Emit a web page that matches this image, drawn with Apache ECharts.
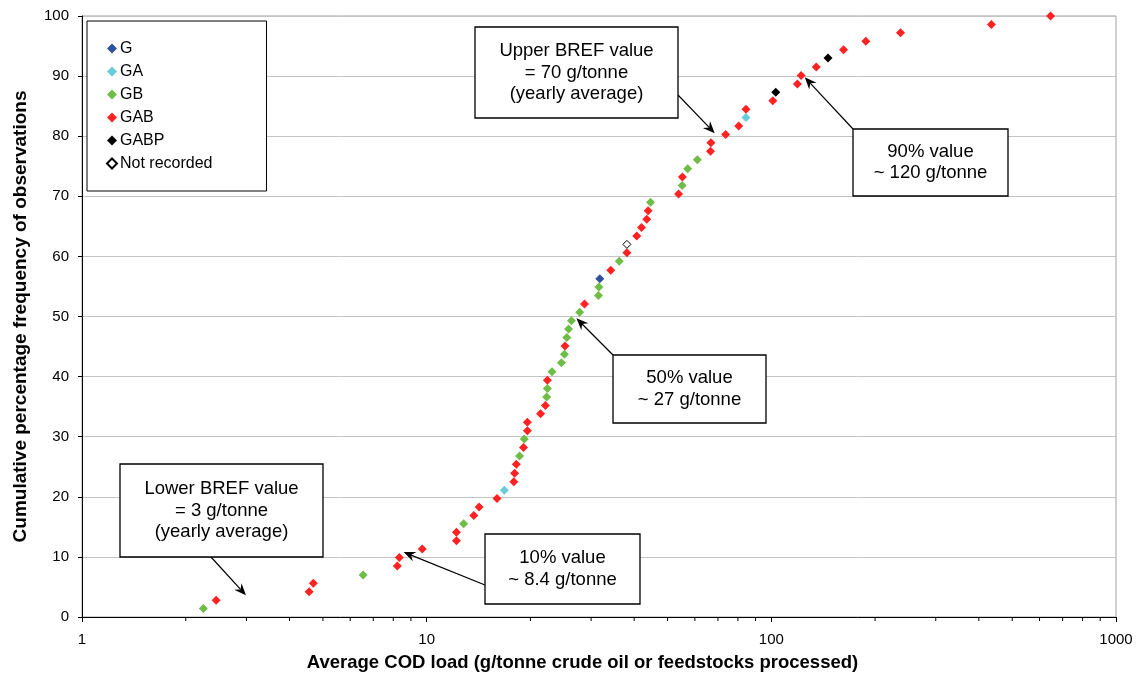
<!DOCTYPE html>
<html>
<head>
<meta charset="utf-8">
<script src="https://cdn.jsdelivr.net/npm/echarts@6/dist/echarts.min.js"></script>
<style>
  html, body { margin: 0; padding: 0; background: #fff; }
  #main { width: 1143px; height: 680px; }
</style>
</head>
<body>
<div id="main"></div>
<script>
// 观测值：平均COD负荷（g/t），按从小到大排列
var codLoad = [2.25, 2.45, 4.56, 4.69, 6.54, 8.22, 8.33, 9.71, 12.2, 12.2,
  12.8, 13.7, 14.2, 16.0, 16.8, 17.9, 18.0, 18.2, 18.6, 19.1,
  19.2, 19.6, 19.6, 21.4, 22.1, 22.3, 22.4, 22.4, 23.1, 24.6,
  25.1, 25.2, 25.5, 25.8, 26.3, 27.8, 28.7, 31.5, 31.6, 31.8,
  34.2, 36.2, 38.1, 38.1, 40.7, 42.0, 43.5, 43.9, 44.6, 53.8,
  55.1, 55.2, 57.2, 61.0, 66.6, 66.8, 73.7, 80.4, 84.4, 84.4,
  101, 103, 119, 122, 135, 146, 162, 188, 237, 435, 646];
// 累计百分比
var cumPct = [1.4, 2.8, 4.2, 5.6, 7.0, 8.5, 9.9, 11.3, 12.7, 14.1,
  15.5, 16.9, 18.3, 19.7, 21.1, 22.5, 23.9, 25.4, 26.8, 28.2,
  29.6, 31.0, 32.4, 33.8, 35.2, 36.6, 38.0, 39.4, 40.8, 42.3,
  43.7, 45.1, 46.5, 47.9, 49.3, 50.7, 52.1, 53.5, 54.9, 56.3,
  57.7, 59.2, 60.6, 62.0, 63.4, 64.8, 66.2, 67.6, 69.0, 70.4,
  71.8, 73.2, 74.6, 76.1, 77.5, 78.9, 80.3, 81.7, 83.1, 84.5,
  85.9, 87.3, 88.7, 90.1, 91.5, 93.0, 94.4, 95.8, 97.2, 98.6, 100];
// 每个观测值的工艺类型
var plantType = ['GB', 'GAB', 'GAB', 'GAB', 'GB', 'GAB', 'GAB', 'GAB', 'GAB', 'GAB',
  'GB', 'GAB', 'GAB', 'GAB', 'GA', 'GAB', 'GAB', 'GAB', 'GB', 'GAB',
  'GB', 'GAB', 'GAB', 'GAB', 'GAB', 'GB', 'GB', 'GAB', 'GB', 'GB',
  'GB', 'GAB', 'GB', 'GB', 'GB', 'GB', 'GAB', 'GB', 'GB', 'G',
  'GAB', 'GB', 'GAB', 'Not recorded', 'GAB', 'GAB', 'GAB', 'GAB', 'GB', 'GAB',
  'GB', 'GAB', 'GB', 'GB', 'GAB', 'GAB', 'GAB', 'GAB', 'GA', 'GAB',
  'GAB', 'GABP', 'GAB', 'GAB', 'GAB', 'GABP', 'GAB', 'GAB', 'GAB', 'GAB', 'GAB'];
var typeNames = ['G', 'GA', 'GB', 'GAB', 'GABP', 'Not recorded'];
var typeColors = ['#3050a0', '#6accd8', '#6fbc46', '#ff2222', '#000000', '#ffffff'];
// x轴次刻度（对数）
var minorTickValues = [2, 3, 4, 5, 6, 7, 8, 9, 20, 30, 40, 50, 60, 70, 80, 90,
  200, 300, 400, 500, 600, 700, 800, 900];
// 标注箭头指向的位置（数据坐标）
var arrowTipX = [68.5, 125, 27.2, 2.99, 8.57];
var arrowTipY = [80.5, 89.8, 49.7, 3.6, 10.8];

(function () {
  var myChart = echarts.init(document.getElementById('main'));
  var font = 'Liberation Sans, Arial, sans-serif';
  // 箭头尾部（像素，贴在文本框边上）
  var arrowTail = [[678, 95], [853, 129], [613, 355], [211, 557], [485, 585]];

  // 按类型拆分成散点系列
  var series = typeNames.map(function (name, k) {
    var pts = [];
    for (var i = 0; i < codLoad.length; i++) {
      if (plantType[i] === name) pts.push([codLoad[i], cumPct[i]]);
    }
    return {
      name: name,
      type: 'scatter',
      symbol: 'diamond',
      symbolSize: name === 'Not recorded' ? 8 : 9,
      data: pts,
      z: 5,
      itemStyle: {
        color: typeColors[k],
        borderColor: name === 'Not recorded' ? '#000' : typeColors[k],
        borderWidth: name === 'Not recorded' ? 1 : 0,
        opacity: 1
      }
    };
  });

  // x轴对数次刻度
  series.push({
    type: 'custom',
    name: 'minorTicks',
    silent: true,
    clip: false,
    z: 3,
    data: minorTickValues.map(function (v) { return [v, 0]; }),
    renderItem: function (params, api) {
      var p = api.coord([api.value(0), 0]);
      return {
        type: 'line',
        shape: { x1: p[0], y1: p[1], x2: p[0], y2: p[1] + 4 },
        style: { stroke: '#000', lineWidth: 1 }
      };
    }
  });

  // 标注箭头
  series.push({
    type: 'custom',
    name: 'arrows',
    silent: true,
    clip: false,
    z: 8,
    data: arrowTipX.map(function (v, i) { return [v, arrowTipY[i]]; }),
    renderItem: function (params, api) {
      var tip = api.coord([api.value(0), api.value(1)]);
      var tail = arrowTail[params.dataIndex];
      var dx = tip[0] - tail[0], dy = tip[1] - tail[1];
      var len = Math.sqrt(dx * dx + dy * dy);
      var ux = dx / len, uy = dy / len;
      var L = 12, W = 5, N = 8;
      var bx = tip[0] - ux * L, by = tip[1] - uy * L;
      var nx = tip[0] - ux * N, ny = tip[1] - uy * N;
      return {
        type: 'group',
        children: [{
          type: 'line',
          shape: { x1: tail[0], y1: tail[1], x2: nx, y2: ny },
          style: { stroke: '#000', lineWidth: 1.2 }
        }, {
          type: 'polygon',
          shape: {
            points: [
              [tip[0], tip[1]],
              [bx - uy * W, by + ux * W],
              [nx, ny],
              [bx + uy * W, by - ux * W]
            ]
          },
          style: { fill: '#000' }
        }]
      };
    }
  });

  function box(x, y, w, h, text) {
    return [{
      type: 'rect',
      z: 10,
      shape: { x: x, y: y, width: w, height: h },
      style: { fill: '#fff', stroke: '#000', lineWidth: 1.3 }
    }, {
      type: 'text',
      z: 11,
      x: x + w / 2,
      y: y + h / 2,
      style: {
        text: text,
        align: 'center',
        verticalAlign: 'middle',
        font: '18.5px ' + font,
        lineHeight: 21.5,
        fill: '#000'
      }
    }];
  }

  var graphics = [].concat(
    box(475, 27, 203, 91, 'Upper BREF value\n= 70 g/tonne\n(yearly average)'),
    box(853, 129, 155, 67, '90% value\n~ 120 g/tonne'),
    box(613, 355, 153, 68, '50% value\n~ 27 g/tonne'),
    box(120, 464, 203, 93, 'Lower BREF value\n= 3 g/tonne\n(yearly average)'),
    box(485, 534, 155, 70, '10% value\n~ 8.4 g/tonne')
  );

  var option = {
    animation: false,
    textStyle: { fontFamily: font },
    grid: {
      left: 82,
      right: 27,
      top: 16,
      bottom: 63,
      show: true,
      borderColor: '#a0a0a0',
      borderWidth: 1,
      backgroundColor: 'transparent'
    },
    legend: {
      data: typeNames,
      orient: 'vertical',
      left: 87,
      top: 21,
      padding: [19, 54, 19, 19],
      itemGap: 6,
      itemWidth: 10,
      itemHeight: 10,
      backgroundColor: '#fff',
      borderColor: '#000',
      borderWidth: 1,
      selectedMode: false,
      textStyle: { fontSize: 16, color: '#000', padding: [0, 0, 0, -2], lineHeight: 17 }
    },
    xAxis: {
      type: 'log',
      logBase: 10,
      min: 1,
      max: 1000,
      name: 'Average COD load (g/tonne crude oil or feedstocks processed)',
      nameLocation: 'middle',
      nameGap: 36,
      nameTextStyle: { fontSize: 18.5, fontWeight: 'bold', color: '#000', padding: [0, 33, 0, 0] },
      axisLine: { lineStyle: { color: '#000', width: 1 } },
      axisTick: { show: true, length: 5, lineStyle: { color: '#000' } },
      axisLabel: {
        fontSize: 15,
        color: '#000',
        margin: 15,
        formatter: function (v) { return String(Math.round(v)); }
      },
      splitLine: { show: false }
    },
    yAxis: {
      type: 'value',
      min: 0,
      max: 100,
      interval: 10,
      name: 'Cumulative percentage frequency of observations',
      nameLocation: 'middle',
      nameGap: 52,
      nameTextStyle: { fontSize: 19, fontWeight: 'bold', color: '#000' },
      axisLine: { show: true, lineStyle: { color: '#000', width: 1 } },
      axisTick: { show: true, length: 4, lineStyle: { color: '#000' } },
      axisLabel: { fontSize: 15, color: '#000', margin: 13 },
      splitLine: { lineStyle: { color: '#c4c4c4', width: 1 } }
    },
    graphic: graphics,
    series: series
  };

  window.addEventListener('resize', function () {
    myChart.resize();
  });
  myChart.setOption(option);
})();
</script>
</body>
</html>
